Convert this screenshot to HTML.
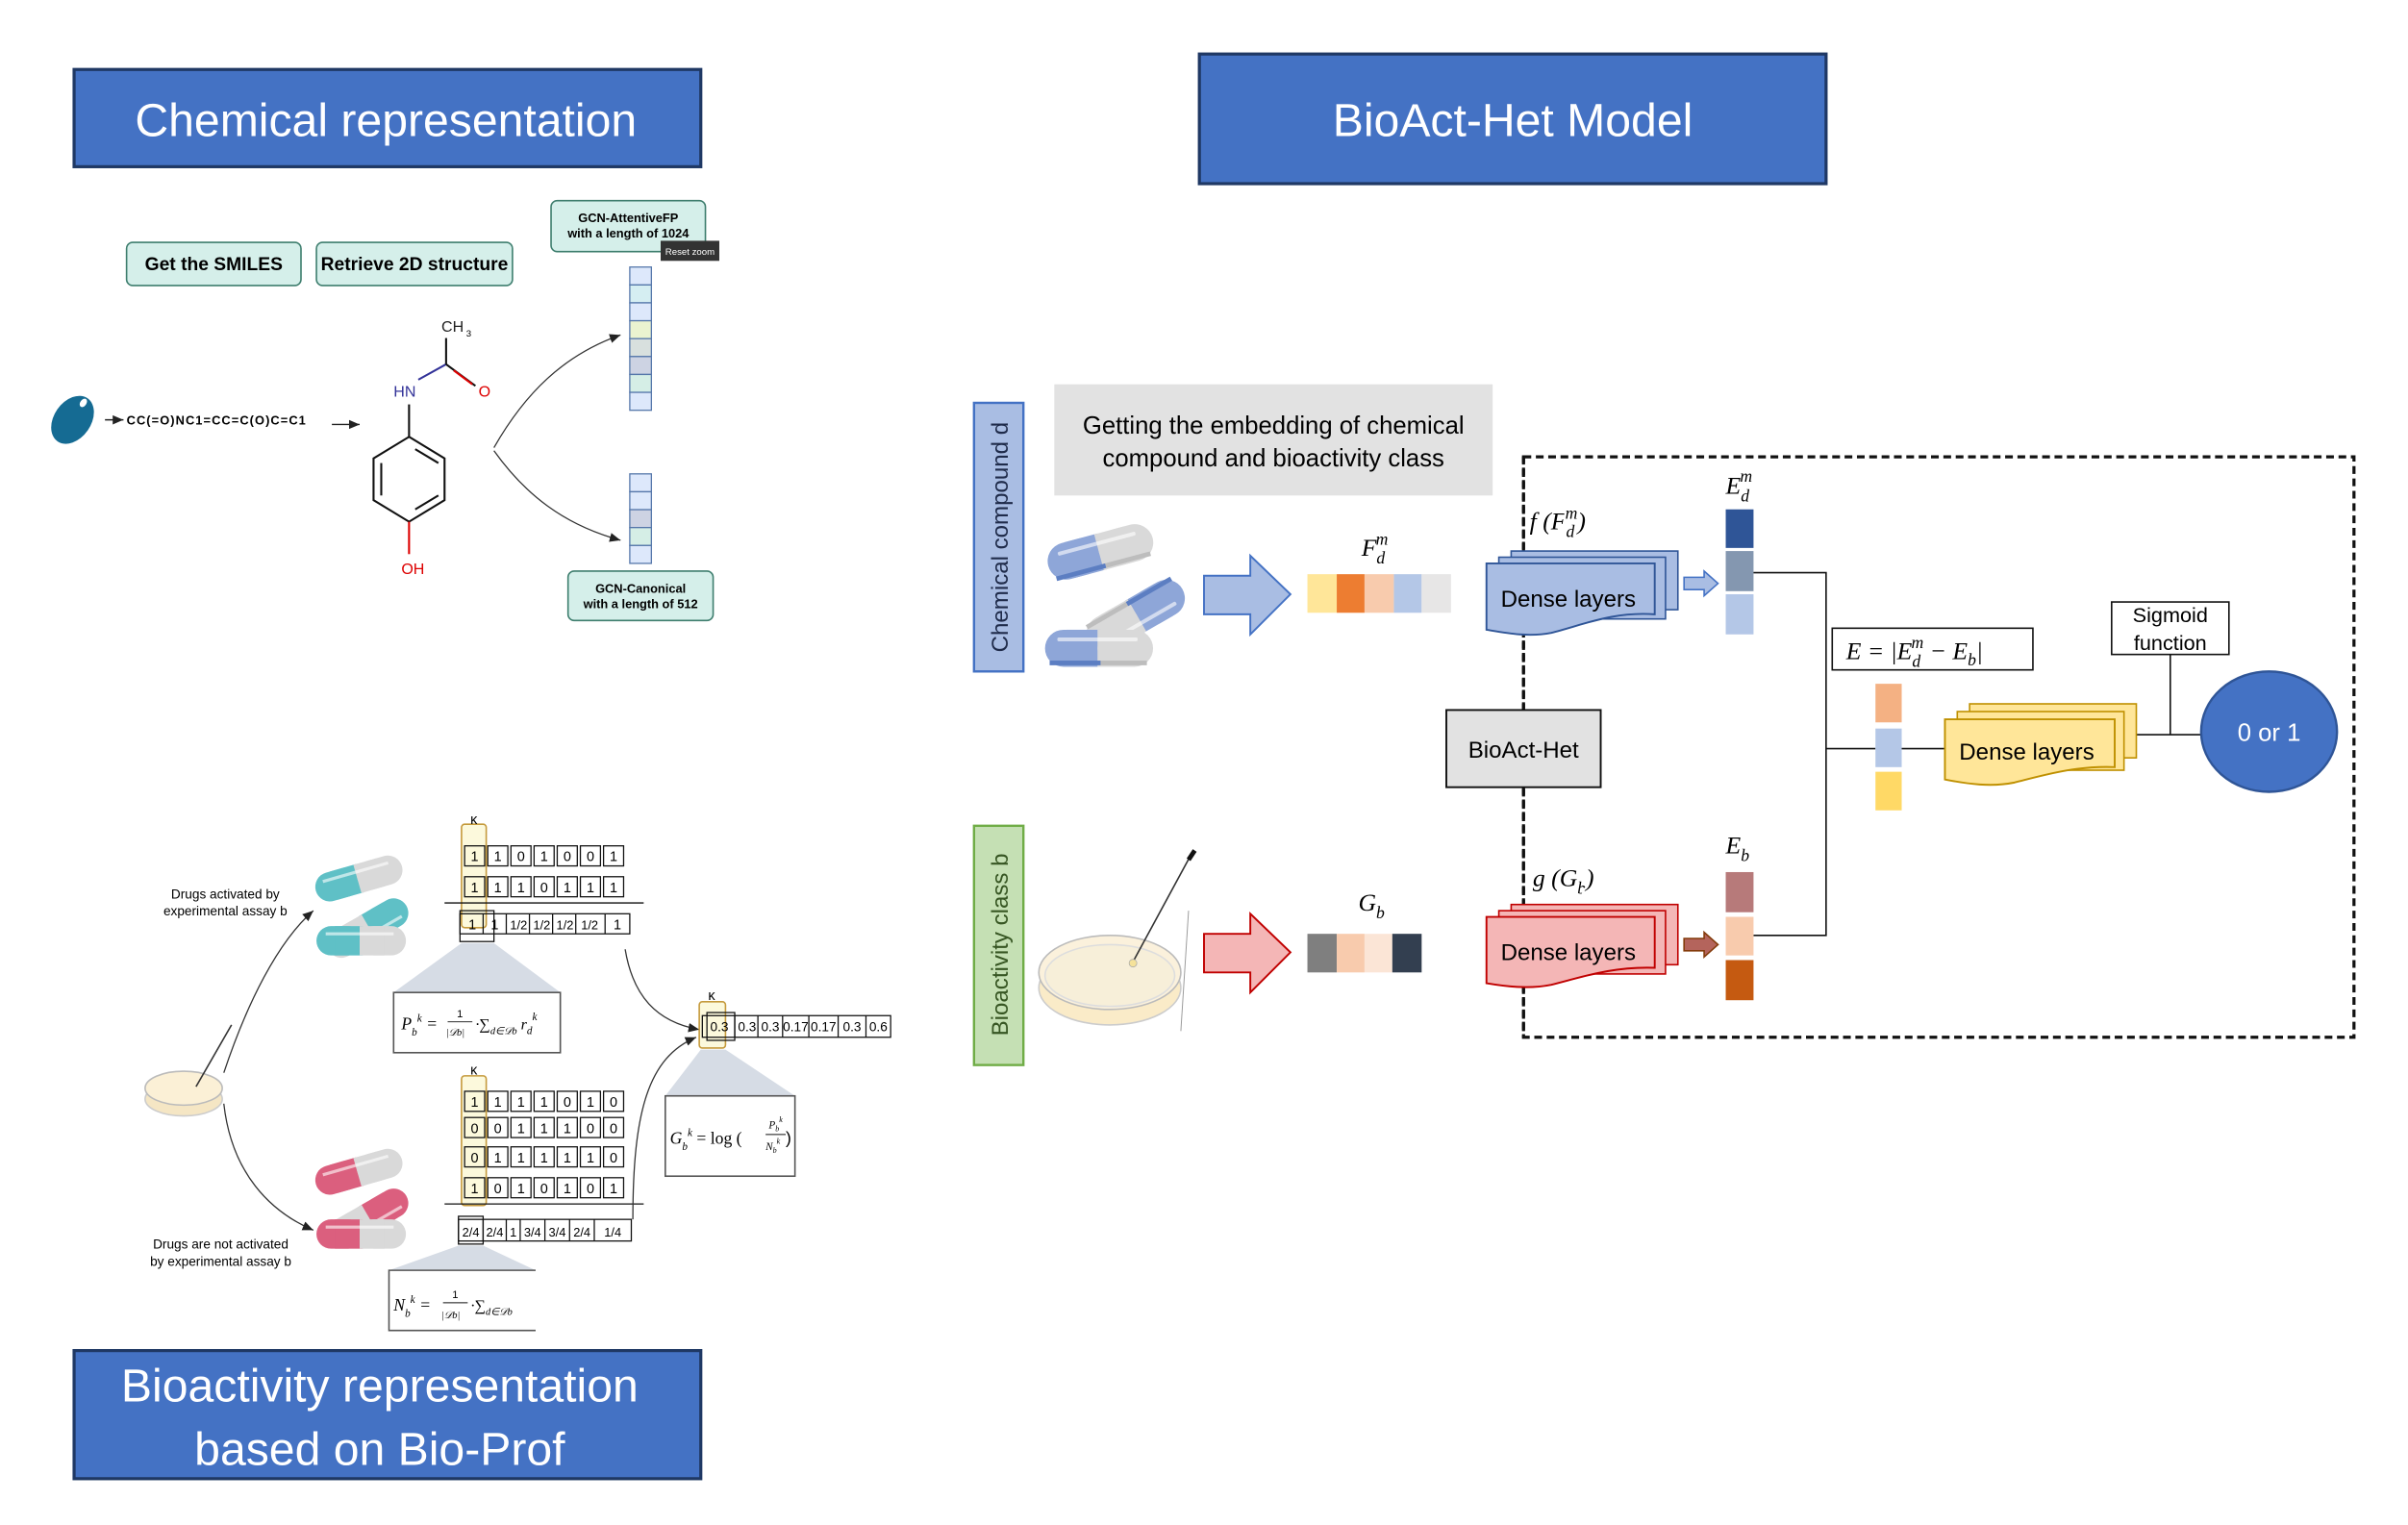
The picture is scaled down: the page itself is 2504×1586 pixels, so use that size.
<!DOCTYPE html>
<html><head><meta charset="utf-8"><style>
html,body{margin:0;padding:0;background:#fff}
svg{display:block}
text{font-family:"Liberation Sans",sans-serif}
.m{font-family:"Liberation Serif",serif;font-style:italic}
</style></head><body>
<svg width="2504" height="1586" viewBox="0 0 1560 988" preserveAspectRatio="none" xmlns="http://www.w3.org/2000/svg">
<defs>
<marker id="ah" markerWidth="8" markerHeight="8" refX="7" refY="4" orient="auto" markerUnits="userSpaceOnUse"><path d="M0,1 L7,4 L0,7 z" fill="#222"/></marker>
<g id="pillB">
 <rect x="0" y="0" width="36" height="24" rx="12" fill="#8EA6D8"/><rect x="14" y="0" width="22" height="24" fill="#8EA6D8"/>
 <rect x="34" y="0" width="36" height="24" rx="12" fill="#D9D9D9"/><rect x="34" y="0" width="20" height="24" fill="#D9D9D9"/>
 <rect x="8" y="5" width="52" height="2.5" rx="1" fill="#fff" opacity=".6"/>
 <rect x="3" y="20" width="33" height="3" fill="#5C7EC2"/><rect x="36" y="20" width="30" height="3" fill="#BDBDBD"/>
</g>
<g id="pillT">
 <rect x="0" y="0" width="30" height="19" rx="9.5" fill="#5FC0C6"/><rect x="12" y="0" width="18" height="19" fill="#5FC0C6"/>
 <rect x="28" y="0" width="30" height="19" rx="9.5" fill="#D9D9D9"/><rect x="28" y="0" width="16" height="19" fill="#D9D9D9"/>
 <rect x="6" y="4" width="44" height="2" fill="#fff" opacity=".6"/>
</g>
<g id="pillR">
 <rect x="0" y="0" width="30" height="19" rx="9.5" fill="#DB5F7E"/><rect x="12" y="0" width="18" height="19" fill="#DB5F7E"/>
 <rect x="28" y="0" width="30" height="19" rx="9.5" fill="#D9D9D9"/><rect x="28" y="0" width="16" height="19" fill="#D9D9D9"/>
 <rect x="6" y="4" width="44" height="2" fill="#fff" opacity=".6"/>
</g>
</defs>

<!-- ===== LEFT TOP ===== -->
<rect x="48" y="45" width="406" height="63" fill="#4472C4" stroke="#1F3864" stroke-width="2"/>
<text x="250" y="88" font-size="30" fill="#fff" text-anchor="middle">Chemical representation</text>

<rect x="82" y="157" width="113" height="28" rx="4" fill="#D5EFEA" stroke="#3E7E6E"/>
<text x="138.5" y="175" font-size="12" font-weight="bold" text-anchor="middle">Get the SMILES</text>
<rect x="205" y="157" width="127" height="28" rx="4" fill="#D5EFEA" stroke="#3E7E6E"/>
<text x="268.5" y="175" font-size="12" font-weight="bold" text-anchor="middle">Retrieve 2D structure</text>

<rect x="357" y="130" width="100" height="33" rx="4" fill="#D5EFEA" stroke="#3E7E6E"/>
<text x="407" y="144" font-size="8" font-weight="bold" text-anchor="middle">GCN-AttentiveFP</text>
<text x="407" y="154" font-size="8" font-weight="bold" text-anchor="middle">with a length of 1024</text>
<rect x="428" y="156" width="38" height="13" fill="#333"/>
<text x="447" y="165" font-size="6" fill="#fff" text-anchor="middle">Reset zoom</text>

<g stroke="#5577AA" stroke-width="0.8">
<rect x="408" y="173" width="14" height="11.6" fill="#DDE8FB"/>
<rect x="408" y="184.6" width="14" height="11.6" fill="#D5EEF2"/>
<rect x="408" y="196.2" width="14" height="11.6" fill="#DDE8FB"/>
<rect x="408" y="207.8" width="14" height="11.6" fill="#EAF3D0"/>
<rect x="408" y="219.4" width="14" height="11.6" fill="#D8E0DE"/>
<rect x="408" y="231" width="14" height="11.6" fill="#CDD3E3"/>
<rect x="408" y="242.6" width="14" height="11.6" fill="#D5EEE6"/>
<rect x="408" y="254.2" width="14" height="11.6" fill="#DDE8FB"/>
<rect x="408" y="307" width="14" height="11.6" fill="#DDE8FB"/>
<rect x="408" y="318.6" width="14" height="11.6" fill="#DDE8FB"/>
<rect x="408" y="330.2" width="14" height="11.6" fill="#CDD3E3"/>
<rect x="408" y="341.8" width="14" height="11.6" fill="#D5EEE6"/>
<rect x="408" y="353.4" width="14" height="11.6" fill="#DDE8FB"/>
</g>

<rect x="368" y="370" width="94" height="32" rx="4" fill="#D5EFEA" stroke="#3E7E6E"/>
<text x="415" y="384" font-size="8" font-weight="bold" text-anchor="middle">GCN-Canonical</text>
<text x="415" y="394" font-size="8" font-weight="bold" text-anchor="middle">with a length of 512</text>

<ellipse cx="47" cy="272" rx="12" ry="17" transform="rotate(35 47 272)" fill="#156B93"/>
<ellipse cx="54" cy="261" rx="2" ry="3" transform="rotate(35 54 261)" fill="#fff"/>
<line x1="68" y1="272" x2="80" y2="272" stroke="#222" marker-end="url(#ah)"/>
<text x="82" y="275" font-size="8" font-weight="bold" textLength="116">CC(=O)NC1=CC=C(O)C=C1</text>
<line x1="215" y1="275" x2="233" y2="275" stroke="#222" stroke-width="0.8" marker-end="url(#ah)"/>

<!-- molecule -->
<g stroke="#111" stroke-width="1.3" fill="none">
<polygon points="265,283 288,297 288,324 265,338 242,324 242,297"/>
<line x1="269" y1="291" x2="284" y2="300"/>
<line x1="247" y1="300" x2="247" y2="321"/>
<line x1="269" y1="330" x2="284" y2="321"/>
<line x1="265" y1="283" x2="265" y2="262"/>
<line x1="271" y1="246" x2="289" y2="236" stroke="#333399"/>
<line x1="289" y1="236" x2="289" y2="219"/>
</g>
<line x1="289" y1="236" x2="308" y2="250" stroke="#111" stroke-width="1.3"/>
<line x1="294" y1="240" x2="306" y2="249" stroke="#D00" stroke-width="1.3"/>
<line x1="265" y1="338" x2="265" y2="359" stroke="#D00" stroke-width="1.3"/>
<text x="255" y="257" font-size="10" fill="#333399">HN</text>
<text x="310" y="257" font-size="10" fill="#D00">O</text>
<text x="286" y="215" font-size="10" fill="#222">CH</text><text x="302" y="218" font-size="6">3</text>
<text x="260" y="372" font-size="10" fill="#D00">OH</text>

<path d="M320,290 C340,255 365,230 402,217" stroke="#333" stroke-width="0.8" fill="none" marker-end="url(#ah)"/>
<path d="M320,292 C340,320 365,340 402,350" stroke="#333" stroke-width="0.8" fill="none" marker-end="url(#ah)"/>

<!-- ===== LEFT BOTTOM ===== -->
<rect x="48" y="875" width="406" height="83" fill="#4472C4" stroke="#1F3864" stroke-width="2"/>
<text x="246" y="908" font-size="30" fill="#fff" text-anchor="middle">Bioactivity representation</text>
<text x="246" y="949" font-size="30" fill="#fff" text-anchor="middle">based on Bio-Prof</text>

<ellipse cx="119" cy="712" rx="25" ry="11" fill="#F5E6C4" stroke="#ccc"/>
<ellipse cx="119" cy="705" rx="25" ry="11" fill="#FBF0D6" stroke="#bbb"/>
<line x1="127" y1="704" x2="150" y2="664" stroke="#333" stroke-width="1"/>

<path d="M145,695 C160,650 180,610 203,590" stroke="#333" stroke-width="0.8" fill="none" marker-end="url(#ah)"/>
<path d="M145,715 C150,760 175,785 203,797" stroke="#333" stroke-width="0.8" fill="none" marker-end="url(#ah)"/>

<use href="#pillT" transform="translate(202,568) rotate(-16)"/>
<use href="#pillT" transform="translate(268,595) rotate(150)"/>
<use href="#pillT" transform="translate(205,600)"/>
<use href="#pillR" transform="translate(202,758) rotate(-16)"/>
<use href="#pillR" transform="translate(268,783) rotate(150)"/>
<use href="#pillR" transform="translate(205,790)"/>

<text x="146" y="582" font-size="8.5" text-anchor="middle">Drugs activated by</text>
<text x="146" y="593" font-size="8.5" text-anchor="middle">experimental assay b</text>
<text x="143" y="809" font-size="8.5" text-anchor="middle">Drugs are not activated</text>
<text x="143" y="820" font-size="8.5" text-anchor="middle">by experimental assay b</text>

<!-- top matrix -->
<rect x="299" y="534" width="16" height="67" rx="2" fill="#FCF9DC" stroke="#C59A3C"/>
<text x="307" y="534" font-size="9" text-anchor="middle">ĸ</text>
<g stroke="#111" stroke-width="0.8" fill="none">
<rect x="301" y="548" width="13" height="13"/><rect x="316" y="548" width="13" height="13"/><rect x="331" y="548" width="13" height="13"/><rect x="346" y="548" width="13" height="13"/><rect x="361" y="548" width="13" height="13"/><rect x="376" y="548" width="13" height="13"/><rect x="391" y="548" width="13" height="13"/>
<rect x="301" y="568" width="13" height="13"/><rect x="316" y="568" width="13" height="13"/><rect x="331" y="568" width="13" height="13"/><rect x="346" y="568" width="13" height="13"/><rect x="361" y="568" width="13" height="13"/><rect x="376" y="568" width="13" height="13"/><rect x="391" y="568" width="13" height="13"/>
<line x1="288" y1="585" x2="417" y2="585"/>
<rect x="298" y="592" width="110" height="13"/>
<line x1="313" y1="592" x2="313" y2="605"/><line x1="328" y1="592" x2="328" y2="605"/><line x1="343" y1="592" x2="343" y2="605"/><line x1="358" y1="592" x2="358" y2="605"/><line x1="373" y1="592" x2="373" y2="605"/><line x1="392" y1="592" x2="392" y2="605"/>
<rect x="298" y="590" width="22" height="20"/>
</g>
<g font-size="9" text-anchor="middle">
<text x="307.5" y="558">1</text><text x="322.5" y="558">1</text><text x="337.5" y="558">0</text><text x="352.5" y="558">1</text><text x="367.5" y="558">0</text><text x="382.5" y="558">0</text><text x="397.5" y="558">1</text>
<text x="307.5" y="578">1</text><text x="322.5" y="578">1</text><text x="337.5" y="578">1</text><text x="352.5" y="578">0</text><text x="367.5" y="578">1</text><text x="382.5" y="578">1</text><text x="397.5" y="578">1</text>
<text x="306" y="602">1</text><text x="320.5" y="602">1</text><text x="336" y="602" font-size="8">1/2</text><text x="351" y="602" font-size="8">1/2</text><text x="366" y="602" font-size="8">1/2</text><text x="382" y="602" font-size="8">1/2</text><text x="400" y="602">1</text>
</g>
<polygon points="299,611 320,611 363,643 255,643" fill="#D6DCE5"/>
<rect x="255" y="643" width="108" height="39" fill="#fff" stroke="#555"/>
<text x="260" y="667" class="m" font-size="11">P<tspan font-size="7" dy="4">b</tspan><tspan font-size="7" dy="-9">k</tspan><tspan dy="5"> = </tspan></text>
<text x="296" y="659" font-size="7">1</text><line x1="290" y1="662" x2="306" y2="662" stroke="#111" stroke-width="0.6"/>
<text x="289" y="671" class="m" font-size="6.5">|𝒟b|</text>
<text x="308" y="667" class="m" font-size="10">·∑<tspan font-size="6.5" dy="3">d∈𝒟b</tspan><tspan dy="-3"> r</tspan><tspan font-size="7" dy="3">d</tspan><tspan font-size="7" dy="-9">k</tspan></text>

<!-- bottom matrix -->
<rect x="299" y="697" width="16" height="84" rx="2" fill="#FCF9DC" stroke="#C59A3C"/>
<text x="307" y="696" font-size="9" text-anchor="middle">ĸ</text>
<g stroke="#111" stroke-width="0.8" fill="none">
<rect x="301" y="707" width="13" height="13"/><rect x="316" y="707" width="13" height="13"/><rect x="331" y="707" width="13" height="13"/><rect x="346" y="707" width="13" height="13"/><rect x="361" y="707" width="13" height="13"/><rect x="376" y="707" width="13" height="13"/><rect x="391" y="707" width="13" height="13"/>
<rect x="301" y="724" width="13" height="13"/><rect x="316" y="724" width="13" height="13"/><rect x="331" y="724" width="13" height="13"/><rect x="346" y="724" width="13" height="13"/><rect x="361" y="724" width="13" height="13"/><rect x="376" y="724" width="13" height="13"/><rect x="391" y="724" width="13" height="13"/>
<rect x="301" y="743" width="13" height="13"/><rect x="316" y="743" width="13" height="13"/><rect x="331" y="743" width="13" height="13"/><rect x="346" y="743" width="13" height="13"/><rect x="361" y="743" width="13" height="13"/><rect x="376" y="743" width="13" height="13"/><rect x="391" y="743" width="13" height="13"/>
<rect x="301" y="763" width="13" height="13"/><rect x="316" y="763" width="13" height="13"/><rect x="331" y="763" width="13" height="13"/><rect x="346" y="763" width="13" height="13"/><rect x="361" y="763" width="13" height="13"/><rect x="376" y="763" width="13" height="13"/><rect x="391" y="763" width="13" height="13"/>
<line x1="288" y1="780" x2="417" y2="780"/>
<rect x="297" y="790" width="112" height="14"/>
<line x1="313" y1="790" x2="313" y2="804"/><line x1="328" y1="790" x2="328" y2="804"/><line x1="337" y1="790" x2="337" y2="804"/><line x1="353" y1="790" x2="353" y2="804"/><line x1="369" y1="790" x2="369" y2="804"/><line x1="385" y1="790" x2="385" y2="804"/>
<rect x="297" y="788" width="16" height="18"/>
</g>
<g font-size="9" text-anchor="middle">
<text x="307.5" y="717">1</text><text x="322.5" y="717">1</text><text x="337.5" y="717">1</text><text x="352.5" y="717">1</text><text x="367.5" y="717">0</text><text x="382.5" y="717">1</text><text x="397.5" y="717">0</text>
<text x="307.5" y="734">0</text><text x="322.5" y="734">0</text><text x="337.5" y="734">1</text><text x="352.5" y="734">1</text><text x="367.5" y="734">1</text><text x="382.5" y="734">0</text><text x="397.5" y="734">0</text>
<text x="307.5" y="753">0</text><text x="322.5" y="753">1</text><text x="337.5" y="753">1</text><text x="352.5" y="753">1</text><text x="367.5" y="753">1</text><text x="382.5" y="753">1</text><text x="397.5" y="753">0</text>
<text x="307.5" y="773">1</text><text x="322.5" y="773">0</text><text x="337.5" y="773">1</text><text x="352.5" y="773">0</text><text x="367.5" y="773">1</text><text x="382.5" y="773">0</text><text x="397.5" y="773">1</text>
</g>
<g font-size="8" text-anchor="middle">
<text x="305" y="801">2/4</text><text x="320.5" y="801">2/4</text><text x="332.5" y="801">1</text><text x="345" y="801">3/4</text><text x="361" y="801">3/4</text><text x="377" y="801">2/4</text><text x="397" y="801">1/4</text>
</g>
<polygon points="297,807 313,807 347,823 252,823" fill="#D6DCE5"/>
<path d="M347,823 H252 V862 H347" fill="#fff" stroke="#555"/>
<text x="255" y="849" class="m" font-size="11">N<tspan font-size="7" dy="4">b</tspan><tspan font-size="7" dy="-9">k</tspan><tspan dy="5"> = </tspan></text>
<text x="293" y="841" font-size="7">1</text><line x1="287" y1="844" x2="303" y2="844" stroke="#111" stroke-width="0.6"/>
<text x="286" y="854" class="m" font-size="6.5">|𝒟b|</text>
<text x="305" y="849" class="m" font-size="10">·∑<tspan font-size="6.5" dy="3">d∈𝒟b</tspan></text>

<!-- G row -->
<path d="M405,615 C410,645 425,662 453,667" stroke="#333" stroke-width="0.8" fill="none" marker-end="url(#ah)"/>
<path d="M410,790 C410,720 420,685 451,672" stroke="#333" stroke-width="0.8" fill="none" marker-end="url(#ah)"/>
<rect x="453" y="649" width="17" height="30" rx="2" fill="#FCF9DC" stroke="#C59A3C"/>
<text x="461" y="648" font-size="9" text-anchor="middle">ĸ</text>
<g stroke="#111" stroke-width="0.8" fill="none">
<rect x="455" y="658" width="122" height="14"/>
<line x1="476" y1="658" x2="476" y2="672"/><line x1="491" y1="658" x2="491" y2="672"/><line x1="507" y1="658" x2="507" y2="672"/><line x1="524" y1="658" x2="524" y2="672"/><line x1="543" y1="658" x2="543" y2="672"/><line x1="561" y1="658" x2="561" y2="672"/>
<rect x="458" y="656" width="18" height="18"/>
</g>
<g font-size="8.5" text-anchor="middle">
<text x="466" y="668">0.3</text><text x="484" y="668">0.3</text><text x="499" y="668">0.3</text><text x="515.5" y="668">0.17</text><text x="533.5" y="668">0.17</text><text x="552" y="668">0.3</text><text x="569" y="668">0.6</text>
</g>
<polygon points="454,680 470,680 515,710 431,710" fill="#D6DCE5"/>
<rect x="431" y="710" width="84" height="52" fill="#fff" stroke="#555"/>
<text x="434" y="741" class="m" font-size="11">G<tspan font-size="7" dy="4">b</tspan><tspan font-size="7" dy="-9">k</tspan><tspan dy="5" font-style="normal"> = log (</tspan></text>
<text x="498" y="731" class="m" font-size="7">P<tspan font-size="5" dy="2">b</tspan><tspan font-size="5" dy="-6">k</tspan></text>
<line x1="496" y1="735" x2="509" y2="735" stroke="#111" stroke-width="0.6"/>
<text x="496" y="745" class="m" font-size="7">N<tspan font-size="5" dy="2">b</tspan><tspan font-size="5" dy="-6">k</tspan></text>
<text x="509" y="741" font-size="11">)</text>

<!-- ===== RIGHT ===== -->
<rect x="777" y="35" width="406" height="84" fill="#4472C4" stroke="#1F3864" stroke-width="2"/>
<text x="980" y="88" font-size="30" fill="#fff" text-anchor="middle">BioAct-Het Model</text>

<rect x="631" y="261" width="32" height="174" fill="#A9BDE3" stroke="#4472C4" stroke-width="1.5"/>
<text transform="translate(653,348) rotate(-90)" font-size="15" fill="#1F2B4A" text-anchor="middle">Chemical compound d</text>
<rect x="631" y="535" width="32" height="155" fill="#C5E0B4" stroke="#70AD47" stroke-width="1.5"/>
<text transform="translate(653,612) rotate(-90)" font-size="15" fill="#375623" text-anchor="middle">Bioactivity class b</text>

<rect x="683" y="249" width="284" height="72" fill="#E2E2E2"/>
<text x="825" y="281" font-size="16" text-anchor="middle">Getting the embedding of chemical</text>
<text x="825" y="302" font-size="16" text-anchor="middle">compound and bioactivity class</text>

<rect x="987" y="296" width="538" height="376" fill="none" stroke="#111" stroke-width="2" stroke-dasharray="5,3"/>
<line x1="987" y1="296" x2="987" y2="460" stroke="#111" stroke-width="2" stroke-dasharray="5,3"/>
<line x1="987" y1="510" x2="987" y2="672" stroke="#111" stroke-width="2" stroke-dasharray="5,3"/>

<use href="#pillB" transform="translate(676,355) rotate(-15)"/>
<use href="#pillB" transform="translate(772,392) rotate(150)"/>
<use href="#pillB" transform="translate(677,408)"/>

<polygon points="780,373 810,373 810,360 836,385 810,411 810,398 780,398" fill="#A9BDE3" stroke="#4472C4" stroke-width="1.2"/>
<text x="882" y="360" class="m" font-size="16">F<tspan font-size="11" dy="5">d</tspan><tspan font-size="11" dx="-6" dy="-12">m</tspan></text>
<rect x="847" y="372" width="19" height="25" fill="#FFE699"/><rect x="866" y="372" width="18" height="25" fill="#ED7D31"/><rect x="884" y="372" width="19" height="25" fill="#F8CBAD"/><rect x="903" y="372" width="18" height="25" fill="#B4C7E7"/><rect x="921" y="372" width="19" height="25" fill="#E7E6E6"/>

<text x="991" y="343" class="m" font-size="16" fill="#000" style="paint-order:stroke" stroke="#fff" stroke-width="3">f (F<tspan font-size="11" dy="5">d</tspan><tspan font-size="11" dx="-6" dy="-12">m</tspan><tspan dy="7" font-size="16">)</tspan></text>

<rect x="979" y="357" width="108" height="38" fill="#A9BDE3" stroke="#2F5597" stroke-width="1"/>
<rect x="971" y="361" width="108" height="40" fill="#A9BDE3" stroke="#2F5597" stroke-width="1"/>
<path d="M963,365 H1072 V398 C1045,396 1025,405 1005,410 C990,413 975,410 963,408 Z" fill="#A9BDE3" stroke="#2F5597" stroke-width="1.2"/>
<text x="1016" y="393" font-size="15" text-anchor="middle">Dense layers</text>
<polygon points="1091,374 1104,374 1104,370 1113,378 1104,386 1104,382 1091,382" fill="#A9BDE3" stroke="#4472C4"/>

<text x="1118" y="320" class="m" font-size="16">E<tspan font-size="11" dy="5">d</tspan><tspan font-size="11" dx="-6" dy="-13">m</tspan></text>
<rect x="1118" y="330" width="18" height="25" fill="#2F5597"/><rect x="1118" y="357" width="18" height="26" fill="#8497B0"/><rect x="1118" y="385" width="18" height="26" fill="#B4C7E7"/>

<g stroke="#111" stroke-width="1" fill="none">
<polyline points="1136,371 1183,371 1183,606 1136,606"/>
<line x1="1183" y1="485" x2="1215" y2="485"/>
<line x1="1231" y1="485" x2="1260" y2="485"/>
<line x1="1384" y1="476" x2="1428" y2="476"/>
<line x1="1406" y1="424" x2="1406" y2="476"/>
</g>

<rect x="1187" y="407" width="130" height="27" fill="#fff" stroke="#111"/>
<text x="1196" y="427" class="m" font-size="16">E = |E<tspan font-size="11" dy="5">d</tspan><tspan font-size="11" dx="-6" dy="-12">m</tspan><tspan font-size="16" dy="7"> − E</tspan><tspan font-size="11" dy="4">b</tspan><tspan font-size="16" dy="-4">|</tspan></text>

<rect x="1215" y="443" width="17" height="25" fill="#F4B183"/><rect x="1215" y="472" width="17" height="25" fill="#B4C7E7"/><rect x="1215" y="500" width="17" height="25" fill="#FFD966"/>

<rect x="1276" y="456" width="108" height="35" fill="#FFE699" stroke="#BF9000" stroke-width="1"/>
<rect x="1268" y="461" width="108" height="38" fill="#FFE699" stroke="#BF9000" stroke-width="1"/>
<path d="M1260,466 H1370 V497 C1345,496 1325,502 1305,507 C1290,510 1275,508 1260,505 Z" fill="#FFE699" stroke="#BF9000" stroke-width="1.2"/>
<text x="1313" y="492" font-size="15" text-anchor="middle">Dense layers</text>

<rect x="1368" y="390" width="76" height="34" fill="#fff" stroke="#111"/>
<text x="1406" y="403" font-size="13.5" text-anchor="middle">Sigmoid</text>
<text x="1406" y="421" font-size="13.5" text-anchor="middle">function</text>

<ellipse cx="1470" cy="474" rx="44" ry="39" fill="#4472C4" stroke="#2F5597" stroke-width="1.5"/>
<text x="1470" y="480" font-size="16" fill="#fff" text-anchor="middle">0 or 1</text>

<rect x="937" y="460" width="100" height="50" fill="#E2E2E2" stroke="#111" stroke-width="1.2"/>
<text x="987" y="491" font-size="15" text-anchor="middle">BioAct-Het</text>

<ellipse cx="719" cy="640" rx="46" ry="24" fill="#FAEBC8" stroke="#ccc"/>
<ellipse cx="719" cy="630" rx="46" ry="24" fill="#FBF1DC" stroke="#bbb"/>
<ellipse cx="719" cy="632" rx="42" ry="20" fill="#F7EFD9" stroke="#ddd"/>
<line x1="733" y1="625" x2="772" y2="553" stroke="#333" stroke-width="1"/>
<line x1="770" y1="557" x2="774" y2="551" stroke="#111" stroke-width="3"/>
<circle cx="734" cy="624" r="2.5" fill="#F5E29A" stroke="#aaa" stroke-width="0.5"/>
<line x1="770" y1="590" x2="765" y2="668" stroke="#999" stroke-width="0.6"/>

<polygon points="780,605 810,605 810,592 836,617 810,643 810,630 780,630" fill="#F4B6B6" stroke="#C00000" stroke-width="1.2"/>
<text x="880" y="590" class="m" font-size="16">G<tspan font-size="11" dy="5">b</tspan></text>
<rect x="847" y="605" width="19" height="25" fill="#7F7F7F"/><rect x="866" y="605" width="18" height="25" fill="#F8CBAD"/><rect x="884" y="605" width="18" height="25" fill="#FBE5D6"/><rect x="902" y="605" width="19" height="25" fill="#333F50"/>

<text x="993" y="574" class="m" font-size="16" style="paint-order:stroke" stroke="#fff" stroke-width="3">g (G<tspan font-size="11" dy="5">b</tspan><tspan dy="-5">)</tspan></text>

<rect x="979" y="586" width="108" height="39" fill="#F4B6B6" stroke="#C00000" stroke-width="1"/>
<rect x="971" y="590" width="108" height="41" fill="#F4B6B6" stroke="#C00000" stroke-width="1"/>
<path d="M963,594 H1072 V627 C1045,626 1025,633 1005,638 C990,641 975,639 963,637 Z" fill="#F4B6B6" stroke="#C00000" stroke-width="1.2"/>
<text x="1016" y="622" font-size="15" text-anchor="middle">Dense layers</text>
<polygon points="1091,608 1104,608 1104,604 1113,612 1104,620 1104,616 1091,616" fill="#B4645C" stroke="#843C0C"/>

<text x="1118" y="553" class="m" font-size="16">E<tspan font-size="11" dy="5">b</tspan></text>
<rect x="1118" y="565" width="18" height="26" fill="#B77A7A"/><rect x="1118" y="594" width="18" height="25" fill="#F8CBAD"/><rect x="1118" y="622" width="18" height="26" fill="#C55A11"/>
</svg>
</body></html>
